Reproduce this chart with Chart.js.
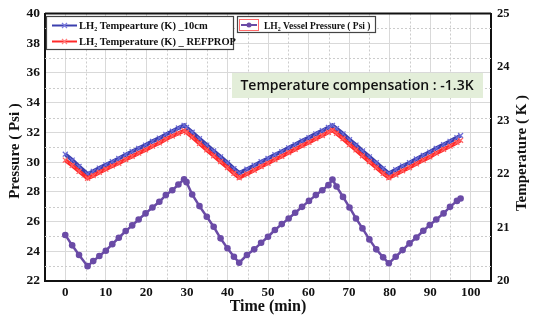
<!DOCTYPE html>
<html>
<head>
<meta charset="utf-8">
<script src="https://cdn.jsdelivr.net/npm/chart.js@4.4.0/dist/chart.umd.min.js"></script>
<style>
    html, body { margin: 0; padding: 0; background: #fff; }
    #wrap { width: 534px; height: 320px; }
</style>
</head>
<body>
<div id="wrap"><canvas id="chart" width="534" height="320"></canvas></div>
<script>
// time of each sample (min)
let timeMin = [0, 1.7, 3.4, 5.5, 6.9, 8.4, 10.0, 11.6, 13.2, 14.9, 16.5, 18.1, 19.8, 21.5, 23.2, 24.8, 26.4, 27.9, 29.3,
    29.9, 31.3, 33.1, 34.9, 36.6, 38.3, 40.0, 41.6, 42.9, 44.8, 46.6, 48.3, 50.0, 51.7, 53.4, 55.1, 56.7, 58.4, 60.1,
    61.8, 63.4, 64.9, 65.9, 66.9, 68.5, 70.1, 71.7, 73.3, 75.0, 76.7, 78.4, 79.8, 81.5, 83.2, 84.9, 86.6, 88.3, 89.9,
    91.5, 93.3, 94.9, 96.6, 97.5];
// LH2 vessel pressure (Psi), left axis
let pressurePsi = [25.1, 24.4, 23.75, 23.0, 23.34, 23.68, 24.04, 24.48, 24.91, 25.36, 25.74, 26.14, 26.55, 26.95, 27.33,
    27.78, 28.11, 28.49, 28.85, 28.65, 27.82, 27.04, 26.32, 25.65, 24.87, 24.2, 23.63, 23.23, 23.75, 24.13, 24.57, 24.98,
    25.43, 25.83, 26.21, 26.59, 26.99, 27.39, 27.78, 28.11, 28.45, 28.83, 28.36, 27.66, 26.95, 26.21, 25.54, 24.8, 24.13,
    23.59, 23.19, 23.63, 24.08, 24.53, 24.93, 25.38, 25.76, 26.14, 26.55, 26.99, 27.39, 27.55];
// LH2 temperature (K) at 10cm, right axis
let temp10cm = [22.37, 22.26, 22.14, 22.0, 22.05, 22.11, 22.17, 22.23, 22.29, 22.36, 22.42, 22.48, 22.54, 22.61, 22.67,
    22.74, 22.8, 22.86, 22.91, 22.87, 22.78, 22.66, 22.54, 22.43, 22.32, 22.21, 22.1, 22.02, 22.09, 22.16, 22.23, 22.29,
    22.36, 22.42, 22.49, 22.55, 22.62, 22.68, 22.75, 22.81, 22.87, 22.91, 22.85, 22.75, 22.64, 22.54, 22.43, 22.32, 22.21,
    22.1, 22.01, 22.08, 22.15, 22.21, 22.28, 22.35, 22.41, 22.48, 22.55, 22.61, 22.68, 22.72];
// LH2 temperature (K) from REFPROP, right axis
let tempRefprop = [22.26, 22.16, 22.05, 21.92, 21.97, 22.03, 22.09, 22.15, 22.2, 22.27, 22.33, 22.39, 22.45, 22.52, 22.58,
    22.65, 22.71, 22.76, 22.81, 22.78, 22.69, 22.57, 22.45, 22.34, 22.23, 22.12, 22.01, 21.93, 22.0, 22.07, 22.14, 22.2,
    22.27, 22.33, 22.4, 22.46, 22.53, 22.59, 22.66, 22.72, 22.78, 22.82, 22.76, 22.66, 22.55, 22.45, 22.34, 22.23, 22.12,
    22.01, 21.93, 21.99, 22.06, 22.12, 22.19, 22.26, 22.32, 22.39, 22.46, 22.52, 22.59, 22.63];

let xTicks = [0, 10, 20, 30, 40, 50, 60, 70, 80, 90, 100];
let xMinorTicks = [5, 15, 25, 35, 45, 55, 65, 75, 85, 95];
let pressureTicks = [22, 24, 26, 28, 30, 32, 34, 36, 38, 40];
let pressureMinorTicks = [23, 25, 27, 29, 31, 33, 35, 37, 39];
let tempTicks = [20, 21, 22, 23, 24, 25];

let seriesNames = ["Tempearture (K) _10cm", "Temperature (K) _ REFPROP", "Vessel Pressure ( Psi )"];
let noteText = "Temperature compensation : -1.3K";

const serif = '"Liberation Serif", "Times New Roman", serif';
const blue = "#3b3fae";
const red = "#ff2a2a";
const purple = "#6a4ba6";

function pairUp(values) {
    return timeMin.map((t, i) => ({ x: t, y: values[i] }));
}

// "LH" + subscript 2 + rest of the label
function drawLH2(ctx, x, y, rest, size) {
    ctx.font = "bold " + size + "px " + serif;
    ctx.fillText("LH", x, y);
    let w = ctx.measureText("LH").width;
    ctx.font = "bold " + Math.round(size * 0.6) + "px " + serif;
    ctx.fillText("2", x + w, y + 2);
    let w2 = ctx.measureText("2").width;
    ctx.font = "bold " + size + "px " + serif;
    ctx.fillText(" " + rest, x + w + w2, y);
}

function crossMark(ctx, cx, cy, r, color) {
    ctx.strokeStyle = color;
    ctx.lineWidth = 1.2;
    ctx.beginPath();
    ctx.moveTo(cx - r, cy - r); ctx.lineTo(cx + r, cy + r);
    ctx.moveTo(cx - r, cy + r); ctx.lineTo(cx + r, cy - r);
    ctx.stroke();
}

const minorGrid = {
    id: "minorGrid",
    beforeDatasetsDraw(chart) {
        const ctx = chart.ctx;
        const area = chart.chartArea;
        const x = chart.scales.x;
        const yP = chart.scales.yP;
        ctx.save();
        ctx.strokeStyle = "#cccccc";
        ctx.lineWidth = 1;
        ctx.setLineDash([2, 2]);
        for (let v of xMinorTicks) {
            let px = Math.round(x.getPixelForValue(v)) + 0.5;
            ctx.beginPath(); ctx.moveTo(px, area.top); ctx.lineTo(px, area.bottom); ctx.stroke();
        }
        for (let v of pressureMinorTicks) {
            let py = Math.round(yP.getPixelForValue(v)) + 0.5;
            ctx.beginPath(); ctx.moveTo(area.left, py); ctx.lineTo(area.right, py); ctx.stroke();
        }
        ctx.restore();
    }
};

const decorations = {
    id: "decorations",
    beforeDraw(chart) {
        const ctx = chart.ctx;
        ctx.save();
        ctx.fillStyle = "#fff";
        ctx.fillRect(0, 0, chart.width, chart.height);
        ctx.restore();
    },
    afterDraw(chart) {
        const ctx = chart.ctx;
        const area = chart.chartArea;
        ctx.save();

        // top border of the frame
        ctx.strokeStyle = "#111";
        ctx.lineWidth = 2;
        ctx.beginPath(); ctx.moveTo(area.left, area.top); ctx.lineTo(area.right, area.top); ctx.stroke();

        // axis titles
        ctx.fillStyle = "#111";
        ctx.textAlign = "center";
        ctx.textBaseline = "middle";
        ctx.font = "bold 15px " + serif;
        ctx.save(); ctx.translate(15, 151); ctx.rotate(-Math.PI / 2); ctx.fillText("Pressure ( Psi )", 0, 0); ctx.restore();
        ctx.save(); ctx.translate(522, 153); ctx.rotate(-Math.PI / 2); ctx.fillText("Temperature ( K )", 0, 0); ctx.restore();
        ctx.font = "bold 16px " + serif;
        ctx.fillText("Time (min)", 268, 307);

        // legend box 1
        ctx.fillStyle = "#fff";
        ctx.fillRect(46.5, 16.5, 187, 33);
        ctx.strokeStyle = "#444";
        ctx.lineWidth = 1.2;
        ctx.strokeRect(46.5, 16.5, 187, 33);
        ctx.lineWidth = 2;
        ctx.strokeStyle = blue;
        ctx.beginPath(); ctx.moveTo(52, 25.5); ctx.lineTo(77, 25.5); ctx.stroke();
        crossMark(ctx, 64.5, 25.5, 2.5, "#7d7de0");
        ctx.lineWidth = 2;
        ctx.strokeStyle = red;
        ctx.beginPath(); ctx.moveTo(52, 41.5); ctx.lineTo(77, 41.5); ctx.stroke();
        crossMark(ctx, 64.5, 41.5, 2.5, "#ff8080");
        ctx.fillStyle = "#111";
        ctx.textAlign = "left";
        ctx.textBaseline = "alphabetic";
        drawLH2(ctx, 79, 29, seriesNames[0], 10.5);
        drawLH2(ctx, 79, 45, seriesNames[1], 10.5);

        // legend box 2
        ctx.fillStyle = "#fff";
        ctx.fillRect(237.5, 16.5, 138, 16);
        ctx.strokeStyle = "#444";
        ctx.lineWidth = 1.2;
        ctx.strokeRect(237.5, 16.5, 138, 16);
        ctx.strokeStyle = "#ff6a6a";
        ctx.lineWidth = 1;
        ctx.strokeRect(239.5, 19.5, 19, 11);
        ctx.strokeStyle = purple;
        ctx.lineWidth = 2;
        ctx.beginPath(); ctx.moveTo(241, 25); ctx.lineTo(257, 25); ctx.stroke();
        ctx.fillStyle = purple;
        ctx.beginPath(); ctx.arc(249, 25, 2.5, 0, Math.PI * 2); ctx.fill();
        ctx.fillStyle = "#111";
        drawLH2(ctx, 264, 29, seriesNames[2], 9.5);

        // note
        ctx.fillStyle = "#e3eed9";
        ctx.fillRect(232, 73, 251, 25);
        ctx.fillStyle = "#111";
        ctx.textAlign = "center";
        ctx.textBaseline = "middle";
        ctx.font = "600 14px \"Open Sans\", \"Noto Sans\", sans-serif";
        ctx.fillText(noteText, 357, 86);

        ctx.restore();
    }
};

const ctx = document.getElementById("chart").getContext("2d");

new Chart(ctx, {
    type: "line",
    data: {
        datasets: [
            {
                label: "LH2 " + seriesNames[2],
                data: pairUp(pressurePsi),
                yAxisID: "yP",
                borderColor: purple,
                backgroundColor: purple,
                borderWidth: 2.5,
                pointStyle: "circle",
                pointRadius: 3.3,
                pointBorderWidth: 0,
                order: 1
            },
            {
                label: "LH2 " + seriesNames[1],
                data: pairUp(tempRefprop),
                yAxisID: "yT",
                borderColor: red,
                backgroundColor: red,
                borderWidth: 4,
                pointStyle: "crossRot",
                pointRadius: 3.5,
                pointBorderColor: "#ff6060",
                pointBorderWidth: 1.2,
                order: 2
            },
            {
                label: "LH2 " + seriesNames[0],
                data: pairUp(temp10cm),
                yAxisID: "yT",
                borderColor: blue,
                backgroundColor: blue,
                borderWidth: 4,
                pointStyle: "crossRot",
                pointRadius: 3.5,
                pointBorderColor: "#6b6bd6",
                pointBorderWidth: 1.2,
                order: 3
            }
        ]
    },
    options: {
        responsive: false,
        animation: false,
        events: [],
        layout: { padding: { top: 13, left: 0, right: 0, bottom: 0 } },
        plugins: {
            legend: { display: false },
            tooltip: { enabled: false }
        },
        scales: {
            x: {
                type: "linear",
                min: -5,
                max: 105,
                afterBuildTicks: scale => { scale.ticks = xTicks.map(v => ({ value: v })); },
                afterFit: scale => { scale.height = 39; },
                grid: { color: "#d9d9d9", drawTicks: false },
                border: { color: "#111", width: 2 },
                ticks: { padding: 4, color: "#111", font: { family: serif, size: 13, weight: "bold" } }
            },
            yP: {
                type: "linear",
                position: "left",
                min: 22,
                max: 40,
                afterBuildTicks: scale => { scale.ticks = pressureTicks.map(v => ({ value: v })); },
                afterFit: scale => { scale.width = 45; },
                grid: { color: "#d9d9d9", drawTicks: false },
                border: { color: "#111", width: 2 },
                ticks: { padding: 5, color: "#111", font: { family: serif, size: 13.5, weight: "bold" } }
            },
            yT: {
                type: "linear",
                position: "right",
                min: 20,
                max: 25,
                afterBuildTicks: scale => { scale.ticks = tempTicks.map(v => ({ value: v })); },
                afterFit: scale => { scale.width = 43; },
                grid: { drawOnChartArea: false, drawTicks: false },
                border: { color: "#111", width: 2 },
                ticks: { padding: 6, color: "#111", font: { family: serif, size: 12.5, weight: "bold" } }
            }
        }
    },
    plugins: [minorGrid, decorations]
});
</script>
</body>
</html>
